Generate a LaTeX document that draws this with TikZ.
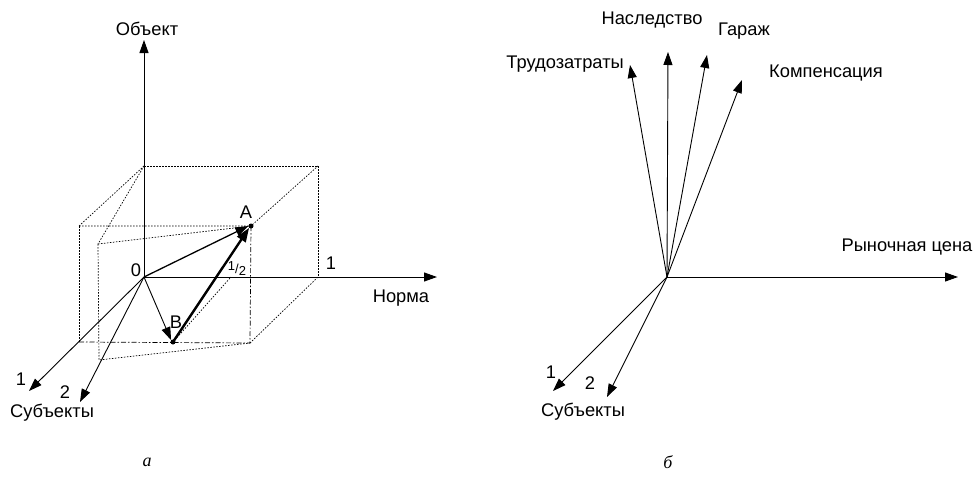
\documentclass[tikz,border=0pt]{standalone}
\usepackage{fontspec}
\setmainfont{Liberation Sans}
\newfontfamily\capfont{Liberation Serif}
\usetikzlibrary{arrows.meta}

\begin{document}
\begin{tikzpicture}[x=1pt, y=-1pt,
    lbl/.style={inner sep=0pt, font=\fontsize{18.3}{20}\selectfont},
    captxt/.style={inner sep=0pt, font=\fontsize{18}{20}\selectfont\capfont\itshape},
    axisarr/.style={-{Triangle[length=13pt,width=9pt]}, line width=1pt},
    vec/.style={-{Triangle[length=13pt,width=9pt]}, line width=0.9pt},
    boldvec/.style={-{Triangle[length=14pt,width=10pt]}, line width=2.4pt},
    cubeline/.style={line width=0.7pt, dash pattern=on 1.5pt off 1.5pt},
    dashdot/.style={line width=0.7pt, dash pattern=on 5pt off 2pt on 1.5pt off 2pt},
    dotpt/.style={circle, fill, inner sep=0pt, minimum size=5pt}
  ]
  \useasboundingbox (0,0) rectangle (975,485);
  % --- a ---
  \coordinate (o) at (144,277);
  \coordinate (ytip) at (144,40);
  \coordinate (xtip) at (437,277);
  \coordinate (bt) at (144,166);
  \coordinate (br) at (318,166);
  \coordinate (x1) at (318,277);
  \coordinate (ft) at (79,226);
  \coordinate (fb) at (79,342);
  \coordinate (fr) at (250,343);
  \coordinate (it) at (98,244);
  \coordinate (ib) at (99,360);
  \coordinate (half) at (231,277);
  \coordinate (s1) at (29,391);
  \coordinate (s2) at (80,402);
  \node[dotpt] (a) at (251,226) {};
  \node[dotpt] (b) at (173,342) {};

  \draw[cubeline] (bt) -- (br) -- (x1);
  \draw[cubeline] (bt) -- (ft);
  \draw[cubeline] (bt) -- (it);
  \draw[cubeline] (ft) -- (a.center) -- (br);
  \draw[cubeline] (it) -- (a.center);
  \draw[cubeline] (ft) -- (fb);
  \draw[cubeline] (it) -- (ib) -- (fr);
  \draw[dashdot] (fb) -- (fr);
  \draw[dashdot] (a.center) -- (fr);
  \draw[cubeline] (fr) -- (x1);
  \draw[cubeline] (b.center) -- (half);

  \draw[axisarr] (o) -- (ytip);
  \draw[axisarr] (o) -- (xtip);
  \draw[vec, line width=1.3pt] (o) -- (a.west);
  \draw[vec] (o) -- (b.north west);
  \draw[boldvec] (b.center) -- (a.south west);
  \draw[vec] (o) -- (s1);
  \draw[vec] (o) -- (s2);

  \node[lbl] (lobj) at (147,29) {Объект};
  \node[lbl] (lnorm) at (401,298) {Норма};
  \node[lbl] (lone) at (331,263) {1};
  \node[lbl] (lzero) at (136,270) {0};
  \node[lbl] (la) at (246,212) {A};
  \node[lbl] (lb) at (176,322) {B};
  \node[lbl, font=\fontsize{13}{15}\selectfont] (lhalf) at (237,269) {\raisebox{3pt}{1}/\raisebox{-2pt}{2}};
  \node[lbl] (ls1) at (21,379) {1};
  \node[lbl] (ls2) at (65,392) {2};
  \node[lbl] (lsub) at (52,413) {Субъекты};
  \node[captxt] (capa) at (147,462) {а};

  % --- b ---
  \coordinate (p) at (667,277);
  \coordinate (mtip) at (958,277);
  \coordinate (ntip) at (668,52);
  \coordinate (gtip) at (707,55);
  \coordinate (ttip) at (630,65);
  \coordinate (ktip) at (742,80);
  \coordinate (r1) at (553,391);
  \coordinate (r2) at (607,397);

  \draw[axisarr] (p) -- (mtip);
  \draw[vec] (p) -- (ntip);
  \draw[vec] (p) -- (gtip);
  \draw[vec] (p) -- (ttip);
  \draw[vec] (p) -- (ktip);
  \draw[vec] (p) -- (r1);
  \draw[vec] (p) -- (r2);

  \node[lbl] (lmark) at (907,247) {Рыночная цена};
  \node[lbl] (lnas) at (652,20) {Наследство};
  \node[lbl] (lgar) at (744,31) {Гараж};
  \node[lbl, anchor=east] (ltrud) at (624,64) {Трудозатраты};
  \node[lbl] (lkomp) at (826,73) {Компенсация};
  \node[lbl] (lr1) at (551,372) {1};
  \node[lbl] (lr2) at (590,383) {2};
  \node[lbl] (lsub2) at (583,412) {Субъекты};
  \node[captxt] (capb) at (668,462) {б};
\end{tikzpicture}
\end{document}
